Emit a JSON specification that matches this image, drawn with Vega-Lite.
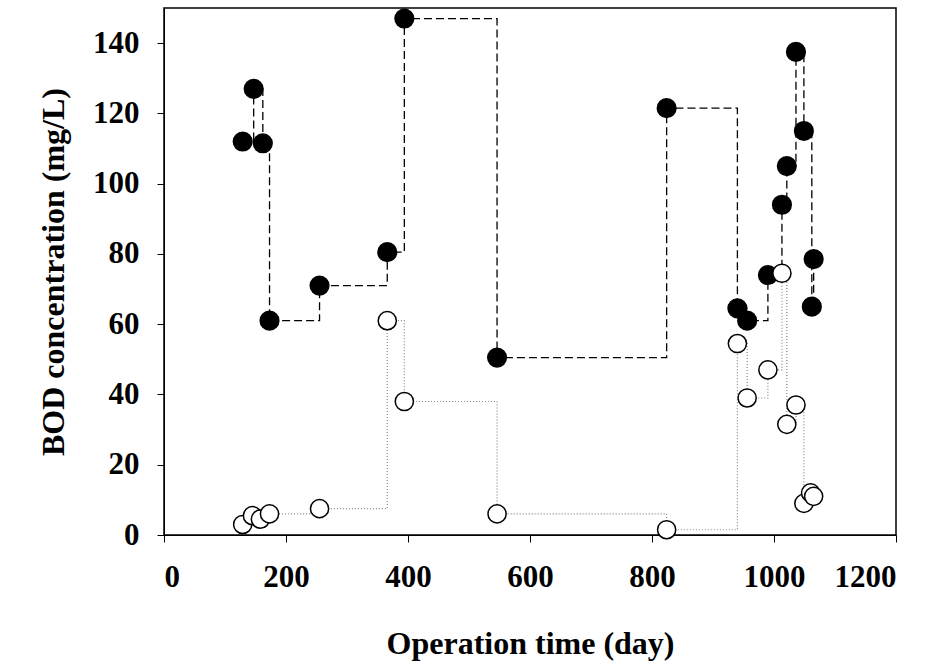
{
  "$schema": "https://vega.github.io/schema/vega-lite/v6.json",
  "width": 943,
  "height": 672,
  "autosize": {"type": "fit", "contains": "padding"},
  "padding": {"left": 37, "top": 8, "right": 46, "bottom": 13},
  "background": "white",
  "config": {
    "view": {"stroke": "black", "strokeWidth": 1.5},
    "font": "Liberation Serif",
    "axis": {
      "grid": false, "domainColor": "black", "tickColor": "black",
      "labelFont": "Liberation Serif", "labelFontSize": 31, "labelFontWeight": "bold", "labelColor": "black",
      "titleFont": "Liberation Serif", "titleFontSize": 32, "titleFontWeight": "bold", "titleColor": "black",
      "tickSize": 7
    }
  },
  "datasets": {
    "influent": [
      {"day": 129, "bod": 112}, {"day": 147, "bod": 127}, {"day": 162, "bod": 111.5},
      {"day": 173, "bod": 61}, {"day": 255, "bod": 71}, {"day": 366, "bod": 80.5},
      {"day": 394, "bod": 147}, {"day": 546, "bod": 50.5}, {"day": 824, "bod": 121.5},
      {"day": 940, "bod": 64.5}, {"day": 956, "bod": 61}, {"day": 990, "bod": 74},
      {"day": 1013, "bod": 94}, {"day": 1021, "bod": 105}, {"day": 1036, "bod": 137.5},
      {"day": 1049, "bod": 115}, {"day": 1062, "bod": 65}, {"day": 1065, "bod": 78.5}
    ],
    "effluent": [
      {"day": 129, "bod": 3}, {"day": 145, "bod": 5.5}, {"day": 158, "bod": 4.5},
      {"day": 173, "bod": 6}, {"day": 255, "bod": 7.5}, {"day": 366, "bod": 61},
      {"day": 394, "bod": 38}, {"day": 546, "bod": 6}, {"day": 824, "bod": 1.5},
      {"day": 940, "bod": 54.5}, {"day": 956, "bod": 39}, {"day": 990, "bod": 47},
      {"day": 1013, "bod": 74.5}, {"day": 1021, "bod": 31.5}, {"day": 1036, "bod": 37},
      {"day": 1049, "bod": 9}, {"day": 1060, "bod": 12}, {"day": 1065, "bod": 11}
    ]
  },
  "encoding": {
    "x": {"field": "day", "type": "quantitative", "title": "Operation time (day)",
      "scale": {"domain": [0, 1200], "nice": false},
      "axis": {"values": [0, 200, 400, 600, 800, 1000, 1200], "format": "d", "labelPadding": 20, "titlePadding": 36}},
    "y": {"field": "bod", "type": "quantitative", "title": "BOD concentration (mg/L)",
      "scale": {"domain": [0, 150], "nice": false},
      "axis": {"values": [0, 20, 40, 60, 80, 100, 120, 140], "labelPadding": 18, "titlePadding": 22}}
  },
  "layer": [
    {"data": {"name": "effluent"}, "mark": {"type": "line", "interpolate": "step-after", "color": "#888", "strokeDash": [1, 2], "strokeWidth": 1.2}},
    {"data": {"name": "influent"}, "mark": {"type": "line", "interpolate": "step-after", "color": "black", "strokeDash": [8, 4], "strokeWidth": 1.3}},
    {"data": {"name": "influent"}, "mark": {"type": "point", "filled": true, "fill": "black", "stroke": "black", "size": 330, "opacity": 1}},
    {"data": {"name": "effluent"}, "mark": {"type": "point", "filled": true, "fill": "white", "stroke": "black", "strokeWidth": 1.5, "size": 330, "opacity": 1}}
  ]
}
